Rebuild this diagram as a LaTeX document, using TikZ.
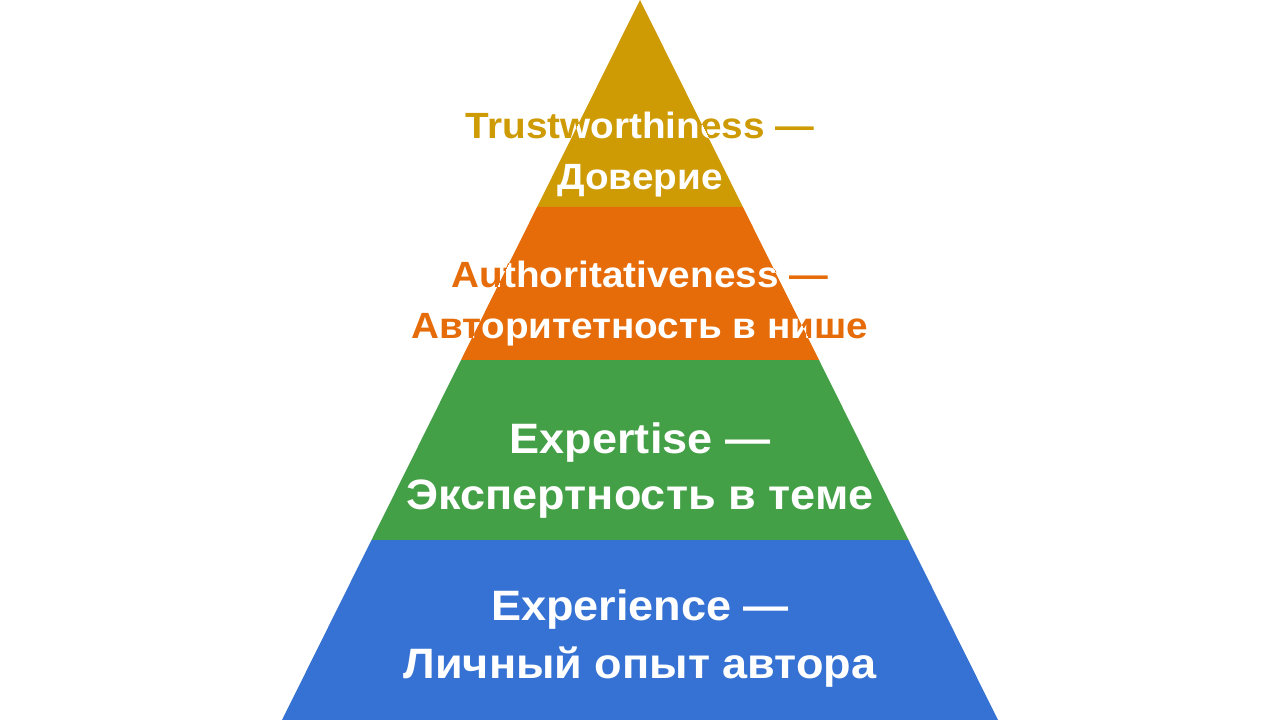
\documentclass[tikz,border=0pt]{standalone}
\usepackage{fontspec}
\setmainfont{Liberation Sans}[FakeStretch=1.06]
\usetikzlibrary{calc}
\definecolor{cgold}{HTML}{CE9B05}
\definecolor{corange}{HTML}{E66C0A}
\definecolor{cgreen}{HTML}{44A047}
\definecolor{cblue}{HTML}{3672D3}
\tikzset{
  band/.style={draw=none},
  big/.style={font=\fontsize{42.5}{42.5}\selectfont\bfseries, anchor=base, inner sep=0pt},
  small/.style={font=\fontsize{36.5}{36.5}\selectfont\bfseries, anchor=base, inner sep=0pt},
}
\begin{document}
\begin{tikzpicture}[x=1pt,y=-1pt]
\useasboundingbox (0,0) rectangle (1280,720);
\fill[white] (0,0) rectangle (1280,720);
% pyramid bands
\coordinate (apex) at (640,0);
\coordinate (bl) at (282,720);
\coordinate (br) at (998,720);
\fill[band,cgold]   (apex) -- ($(apex)!207/720!(bl)$) -- ($(apex)!207/720!(br)$) -- cycle;
\fill[band,corange] ($(apex)!207/720!(bl)$) -- ($(apex)!360/720!(bl)$) -- ($(apex)!360/720!(br)$) -- ($(apex)!207/720!(br)$) -- cycle;
\fill[band,cgreen]  ($(apex)!360/720!(bl)$) -- ($(apex)!540/720!(bl)$) -- ($(apex)!540/720!(br)$) -- ($(apex)!360/720!(br)$) -- cycle;
\fill[band,cblue]   ($(apex)!540/720!(bl)$) -- (bl) -- (br) -- ($(apex)!540/720!(br)$) -- cycle;
% labels in band colour (visible outside the pyramid)
\node[small,text=cgold]   (t1a) at (640,138) {Trustworthiness —};
\node[small,text=cgold]   (t1b) at (640,189) {Доверие};
\node[small,text=corange] (t2a) at (640,287) {Authoritativeness —};
\node[small,text=corange] (t2b) at (640,338) {Авторитетность в нише};
% white labels inside the pyramid
\begin{scope}
\clip (apex) -- (bl) -- (br) -- cycle;
\node[small,text=white] (w1a) at (640,138) {Trustworthiness —};
\node[small,text=white] (w1b) at (640,189) {Доверие};
\node[small,text=white] (w2a) at (640,287) {Authoritativeness —};
\node[small,text=white] (w2b) at (640,338) {Авторитетность в нише};
\end{scope}
\node[big,text=white] (w3a) at (640,453) {Expertise —};
\node[big,text=white] (w3b) at (640,509) {Экспертность в теме};
\node[big,text=white] (w4a) at (640,620) {Experience —};
\node[big,text=white] (w4b) at (640,678) {Личный опыт автора};
\end{tikzpicture}
\end{document}
